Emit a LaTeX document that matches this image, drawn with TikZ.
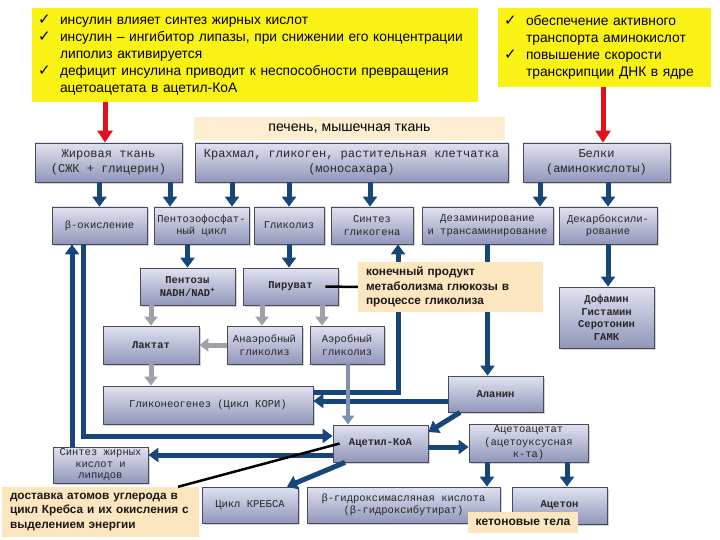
\documentclass[tikz,border=0pt]{standalone}
\usepackage{fontspec}
\setmainfont{Liberation Sans}
\newfontfamily\boxfont{Liberation Mono}
\newfontfamily\symfont{DejaVu Sans}
\usetikzlibrary{arrows.meta,shadows}

\definecolor{insyel}{RGB}{250,242,20}
\definecolor{notebg}{RGB}{252,230,192}
\definecolor{liverbg}{RGB}{253,238,210}
\definecolor{boxtop}{RGB}{224,226,240}
\definecolor{boxbot}{RGB}{146,150,186}
\definecolor{boxline}{RGB}{70,74,90}
\definecolor{flowblue}{RGB}{22,70,122}
\definecolor{sidegrey}{RGB}{160,160,168}
\definecolor{aergrey}{RGB}{128,143,182}
\definecolor{insred}{RGB}{226,18,28}

\newcommand{\chk}{{\symfont\fontsize{15}{15}\selectfont ✓}}

\begin{document}
\begin{tikzpicture}[x=1pt,y=-1pt,
  box/.style={draw=boxline,line width=0.8pt,top color=boxtop,bottom color=boxbot,
    drop shadow={shadow xshift=2pt,shadow yshift=-2pt,opacity=0.35},
    align=center,inner sep=1pt,text=black!85,font=\boxfont\fontsize{10.5}{12.5}\selectfont},
  bigbox/.style={box,font=\boxfont\fontsize{12}{15}\selectfont},
  boldbox/.style={box,font=\boxfont\bfseries\fontsize{10.5}{12.5}\selectfont},
  wh/.style 2 args={minimum width=#1,minimum height=#2},
  yel/.style={fill=insyel,inner xsep=6pt,align=left,font=\fontsize{13.8}{17}\selectfont},
  note/.style={fill=notebg,inner xsep=8pt,align=left,text=black!90,font=\bfseries\fontsize{11.8}{14.5}\selectfont},
  flow/.style={draw=flowblue,line width=5pt,-{Triangle[length=10pt,width=14pt]}},
  side/.style={draw=sidegrey,line width=5pt,-{Triangle[length=9pt,width=13pt]}},
  aerline/.style={draw=aergrey,line width=4pt,-{Triangle[length=9pt,width=12pt]}},
  insul/.style={draw=insred,line width=5pt,-{Triangle[length=12pt,width=15pt]}},
  pointer/.style={draw=black,line width=2.5pt}]
\useasboundingbox (0,0) rectangle (720,540);

\node[yel,wh={446}{94},text width=434] (insnote) at (255,55) {%
\begin{tabular}{@{}p{12pt}@{\hspace{10pt}}l@{}}
\chk & инсулин влияет синтез жирных кислот\\
\chk & инсулин – ингибитор липазы, при снижении его концентрации\\
 & липолиз активируется\\
\chk & дефицит инсулина приводит к неспособности превращения\\
 & ацетоацетата в ацетил-КоА
\end{tabular}};
\node[yel,wh={213}{79},text width=201] (transnote) at (604.5,47.5) {%
\begin{tabular}{@{}p{12pt}@{\hspace{10pt}}l@{}}
\chk & обеспечение активного\\
 & транспорта аминокислот\\
\chk & повышение скорости\\
 & транскрипции ДНК в ядре
\end{tabular}};
\node[fill=liverbg,wh={311}{23},font=\fontsize{14.1}{15}\selectfont] (liver) at (349.5,128.5) {печень, мышечная ткань};

\node[bigbox,wh={147}{39}] (fat) at (108.5,162.5) {Жировая ткань\\(СЖК + глицерин)};
\node[bigbox,wh={313}{39}] (starch) at (351.5,162.5) {Крахмал, гликоген, растительная клетчатка\\(моносахара)};
\node[bigbox,wh={147}{39}] (prot) at (596.5,162.5) {Белки\\(аминокислоты)};

\node[box,wh={95}{37}] (beta) at (99.5,225.5) {β-окисление};
\node[box,wh={95}{37}] (ppc) at (201.5,225.5) {Пентозофосфат-\\ный цикл};
\node[box,wh={70}{37}] (glyc) at (289,225.5) {Гликолиз};
\node[box,wh={82}{37}] (glsyn) at (372,225.5) {Синтез\\гликогена};
\node[box,wh={131}{37}] (deam) at (487.5,225.5) {Дезаминирование\\и трансаминирование};
\node[box,wh={98}{37}] (decarb) at (608,225.5) {Декарбоксили-\\рование};

\node[boldbox,wh={95}{37}] (pent) at (187.5,286.5) {Пентозы\\NADH/NAD\textsuperscript{+}};
\node[boldbox,wh={95}{37}] (pyr) at (290.5,286.5) {Пируват};
\node[boldbox,wh={95}{61}] (amines) at (606.5,317.5) {Дофамин\\Гистамин\\Серотонин\\ГАМК};

\node[boldbox,wh={96}{38}] (lact) at (151,345) {Лактат};
\node[box,wh={75}{38}] (anaer) at (264.5,345) {Анаэробный\\гликолиз};
\node[box,wh={74}{38}] (aer) at (347,345) {Аэробный\\гликолиз};

\node[box,wh={210}{38}] (gng) at (208,405) {Гликонеогенез (Цикл КОРИ)};
\node[boldbox,wh={95}{36}] (ala) at (495.5,394) {Аланин};

\node[boldbox,wh={95}{37}] (acoa) at (380.5,443.5) {Ацетил-КоА};
\node[box,wh={119}{38}] (acac) at (528.5,443) {Ацетоацетат\\(ацетоуксусная\\к-та)};
\node[box,wh={95}{36},font=\boxfont\fontsize{10.5}{11.5}\selectfont] (fasyn) at (100.5,465) {Синтез жирных\\кислот и\\липидов};

\node[box,wh={96}{36}] (krebs) at (250,505) {Цикл КРЕБСА};
\node[box,wh={193}{36}] (bhb) at (403.5,505) {β-гидроксимасляная кислота\\(β-гидроксибутират)};
\node[boldbox,wh={95}{37}] (acet) at (559.5,505.5) {Ацетон};

\draw[flow] (fat.south -| beta) -- (beta.north);
\draw[flow] (fat.south -| 170,0) -- (ppc.north -| 170,0);
\draw[flow] (starch.south -| 232,0) -- (ppc.north -| 232,0);
\draw[flow] (starch.south -| glyc) -- (glyc.north);
\draw[flow] (starch.south -| 370,0) -- (glsyn.north -| 370,0);
\draw[flow] (prot.south -| 540,0) -- (deam.north -| 540,0);
\draw[flow] (prot.south -| decarb) -- (decarb.north);
\draw[flow] (ppc.south -| pent) -- (pent.north);
\draw[flow] (glyc.south) -- (pyr.north -| glyc);
\draw[flow] (decarb.south) -- (amines.north -| decarb);
\draw[flow] (deam.south) -- (ala.north -| deam);
\draw[flow] (gng.east |- 0,392) -| (glsyn.south -| 398,0);
\draw[flow] (ala.west |- 0,401) -- (gng.east |- 0,401);
\draw[flow] (ala.south -| 460,0) -- (acoa.east |- 0,432);
\draw[flow] (acoa.east |- 0,447) -- (acac.west |- 0,447);
\draw[flow] (acac.south -| 487,0) -- (bhb.north -| 487,0);
\draw[flow] (acac.south -| 567,0) -- (acet.north -| 567,0);
\draw[flow] (acoa.south -| 345,0) -- (krebs.north -| 287,0);
\draw[flow] (fasyn.north -| 72,0) -- (beta.south -| 72,0);
\draw[flow] (beta.south -| 83,0) |- (acoa.west |- 0,436);
\draw[flow] (acoa.west |- 0,455) -- (fasyn.east |- 0,455);

\draw[side] (pent.south -| lact) -- (lact.north);
\draw[side] (pyr.south -| 262,0) -- (anaer.north -| 262,0);
\draw[side] (pyr.south -| 322,0) -- (aer.north -| 322,0);
\draw[side] (anaer.west) -- (lact.east);
\draw[side] (lact.south) -- (gng.north -| lact);
\draw[aerline] (aer.south -| 348,0) -- (acoa.north -| 348,0);

\draw[insul] (insnote.south -| 105,0) -- (fat.north -| 105,0);
\draw[insul] (transnote.south -| 603,0) -- (prot.north -| 603,0);

\node[note,wh={185}{50},text width=169] (pyrnote) at (450.5,287) {конечный продукт\\метаболизма глюкозы в\\процессе гликолиза};
\node[note,wh={197}{50},text width=181] (carbnote) at (100.5,512) {доставка атомов углерода в\\цикл Кребса и их окисления с\\выделением энергии};
\node[note,wh={110}{21},align=center,font=\bfseries\fontsize{12}{14}\selectfont] (ketonote) at (523,522.5) {кетоновые тела};

\draw[pointer] ([xshift=-13pt]pyr.east) -- (pyrnote.west);
\draw[pointer] (carbnote.north -| 178,0) -- ([xshift=7pt]acoa.west);
\end{tikzpicture}
\end{document}
